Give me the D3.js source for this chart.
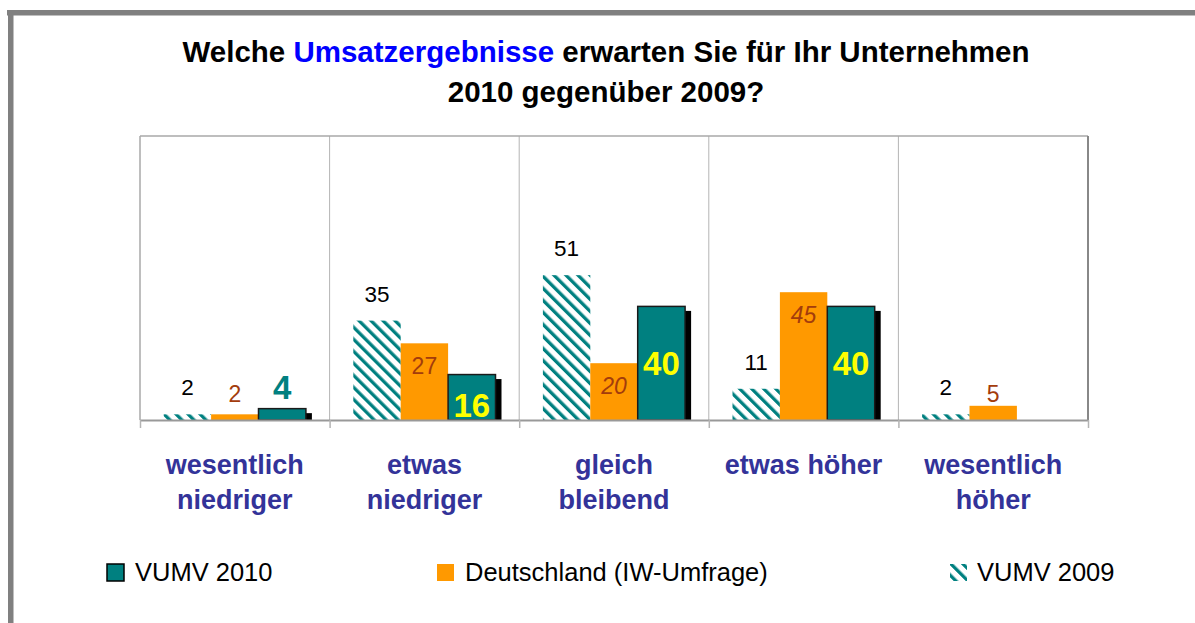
<!DOCTYPE html>
<html>
<head>
<meta charset="utf-8">
<script src="https://cdn.jsdelivr.net/npm/d3@7"></script>
<style>
  body { margin: 0; background: #fff; }
  svg { display: block; font-family: "Liberation Sans", Arial, sans-serif; }
</style>
</head>
<body>
<svg id="chart"></svg>
<script>
var width = 1195,
    height = 623,
    plot = {left: 140, top: 136, right: 1088, bottom: 420};

// data
var categories = ['wesentlich niedriger', 'etwas niedriger', 'gleich bleibend', 'etwas höher', 'wesentlich höher'];
var categoryLines = [['wesentlich', 'niedriger'], ['etwas', 'niedriger'], ['gleich', 'bleibend'], ['etwas höher'], ['wesentlich', 'höher']];
var series = ['VUMV 2009', 'Deutschland (IW-Umfrage)', 'VUMV 2010'];
var vumv2009 = [2, 35, 51, 11, 2];
var deutschland = [2, 27, 20, 45, 5];
var vumv2010 = [4, 16, 40, 40, null];
var legendOrder = ['VUMV 2010', 'Deutschland (IW-Umfrage)', 'VUMV 2009'];

var teal = '#008080', orange = '#ff9900', brown = '#a33c0c', catColor = '#333399';
var italicDE = [false, false, true, true, false];

var svg = d3.select('#chart').attr('width', width).attr('height', height);

// hatch pattern
var defs = svg.append('defs');
defs.append('pattern')
    .attr('id', 'hatch')
    .attr('patternUnits', 'userSpaceOnUse')
    .attr('width', 8.5).attr('height', 8.5)
    .attr('patternTransform', 'rotate(-45)')
    .call(function(p) {
      p.append('rect').attr('width', 8.5).attr('height', 8.5).attr('fill', '#fff');
      p.append('rect').attr('x', 0).attr('width', 3.3).attr('height', 8.5).attr('fill', teal);
    });

// outer frame
svg.append('rect').attr('x', 7).attr('y', 10).attr('width', width - 7).attr('height', 5.5).attr('fill', '#808080');
svg.append('rect').attr('x', 8).attr('y', 10).attr('width', 5.5).attr('height', height - 10).attr('fill', '#808080');

// title
var title = svg.append('text')
    .attr('text-anchor', 'middle')
    .attr('font-weight', 'bold')
    .attr('font-size', 29.5);
var t1 = title.append('tspan').attr('x', 606).attr('y', 62);
t1.append('tspan').text('Welche ');
t1.append('tspan').attr('fill', '#0000ff').text('Umsatzergebnisse');
t1.append('tspan').text(' erwarten Sie für Ihr Unternehmen');
title.append('tspan').attr('x', 606).attr('y', 102).text('2010 gegenüber 2009?');

// scales
var x0 = d3.scaleBand().domain(categories).range([plot.left, plot.right]).padding(0);
var x1 = d3.scaleBand().domain(series).range([0, x0.bandwidth()]).paddingInner(0).paddingOuter(0.5);
var y = d3.scaleLinear().domain([0, 100]).range([plot.bottom, plot.top]);
var xb = d3.scaleLinear().domain([0, categories.length]).range([plot.left, plot.right]);

// plot area
svg.append('g')
    .selectAll('line')
    .data(d3.range(1, categories.length))
    .join('line')
    .attr('x1', function(d) { return xb(d); }).attr('x2', function(d) { return xb(d); })
    .attr('y1', plot.top).attr('y2', plot.bottom)
    .attr('stroke', '#b4b4b4').attr('stroke-width', 1);

svg.append('line').attr('x1', plot.left).attr('x2', plot.right).attr('y1', plot.top).attr('y2', plot.top)
    .attr('stroke', '#a8a8a8').attr('stroke-width', 1.5);
svg.append('line').attr('x1', plot.left).attr('x2', plot.left).attr('y1', plot.top).attr('y2', plot.bottom)
    .attr('stroke', '#a8a8a8').attr('stroke-width', 1.5);
svg.append('line').attr('x1', plot.right).attr('x2', plot.right).attr('y1', plot.top).attr('y2', plot.bottom)
    .attr('stroke', '#888').attr('stroke-width', 2);

var rows = categories.map(function(c, i) {
  return {cat: c, i: i, v09: vumv2009[i], de: deutschland[i], v10: vumv2010[i]};
});

var g = svg.append('g');

// VUMV 2009 (hatched)
g.selectAll('.b09').data(rows).join('rect')
    .attr('x', function(d) { return x0(d.cat) + x1(series[0]); })
    .attr('y', function(d) { return y(d.v09); })
    .attr('width', x1.bandwidth())
    .attr('height', function(d) { return y(0) - y(d.v09); })
    .attr('fill', 'url(#hatch)');

// Deutschland
g.selectAll('.bde').data(rows).join('rect')
    .attr('x', function(d) { return x0(d.cat) + x1(series[1]); })
    .attr('y', function(d) { return y(d.de); })
    .attr('width', x1.bandwidth())
    .attr('height', function(d) { return y(0) - y(d.de); })
    .attr('fill', orange);

// VUMV 2010 with shadow
var rows10 = rows.filter(function(d) { return d.v10 != null; });
g.selectAll('.sh').data(rows10).join('rect')
    .attr('x', function(d) { return x0(d.cat) + x1(series[2]) + 6; })
    .attr('y', function(d) { return y(d.v10) + 4.5; })
    .attr('width', x1.bandwidth())
    .attr('height', function(d) { return y(0) - y(d.v10) - 4.5; })
    .attr('fill', '#000');
g.selectAll('.b10').data(rows10).join('rect')
    .attr('x', function(d) { return x0(d.cat) + x1(series[2]); })
    .attr('y', function(d) { return y(d.v10); })
    .attr('width', x1.bandwidth())
    .attr('height', function(d) { return y(0) - y(d.v10); })
    .attr('fill', teal)
    .attr('stroke', '#1a1a1a').attr('stroke-width', 1.5);

// axis with boundary ticks
svg.append('g')
    .attr('transform', 'translate(0,' + plot.bottom + ')')
    .call(d3.axisBottom(xb).ticks(categories.length).tickSizeInner(8).tickSizeOuter(0).tickFormat(''))
    .call(function(a) {
      a.select('.domain').attr('stroke', '#999').attr('stroke-width', 2);
      a.selectAll('.tick line').attr('stroke', '#b4b4b4').attr('stroke-width', 1.5);
    });

// value labels
var labels = svg.append('g').attr('text-anchor', 'middle');
labels.selectAll('.l09').data(rows).join('text')
    .attr('x', function(d) { return x0(d.cat) + x1(series[0]) + x1.bandwidth() / 2; })
    .attr('y', function(d) { return y(d.v09) - 19; })
    .attr('font-size', 22.5).attr('fill', '#000')
    .text(function(d) { return d.v09; });

labels.selectAll('.lde').data(rows).join('text')
    .attr('x', function(d) { return x0(d.cat) + x1(series[1]) + x1.bandwidth() / 2; })
    .attr('y', function(d) { return Math.min(y(d.de) + 31, y(0) - 18); })
    .attr('font-size', 23).attr('fill', brown)
    .attr('font-style', function(d) { return italicDE[d.i] ? 'italic' : 'normal'; })
    .text(function(d) { return d.de; });

labels.selectAll('.l10').data(rows10).join('text')
    .attr('x', function(d) { return x0(d.cat) + x1(series[2]) + x1.bandwidth() / 2; })
    .attr('y', function(d) {
      var h = y(0) - y(d.v10);
      if (h < 20) return y(d.v10) - 10;
      if (h < 60) return y(0) - 3;
      return (y(0) + y(d.v10)) / 2 + 11.5;
    })
    .attr('font-size', 33).attr('font-weight', 'bold')
    .attr('fill', function(d) { return (y(0) - y(d.v10)) < 20 ? teal : '#ffff00'; })
    .text(function(d) { return d.v10; });

// category labels
var cl = svg.append('g').attr('text-anchor', 'middle')
    .attr('font-size', 27).attr('font-weight', 'bold').attr('fill', catColor);
cl.selectAll('text').data(rows).join('text')
    .attr('transform', function(d) { return 'translate(' + (x0(d.cat) + x0.bandwidth() / 2) + ',0)'; })
    .each(function(d) {
      d3.select(this).selectAll('tspan').data(categoryLines[d.i]).join('tspan')
          .attr('x', 0)
          .attr('y', function(t, k) { return 474 + k * 35; })
          .text(function(t) { return t; });
    });

// legend
var legendX = [107, 437, 950],
    legendTextX = [135, 465, 977],
    legendFill = [teal, orange, 'url(#hatch)'];
var lg = svg.append('g').selectAll('g').data(legendOrder).join('g');
lg.append('rect')
    .attr('x', function(d, i) { return legendX[i]; })
    .attr('y', 564)
    .attr('width', 17).attr('height', 17)
    .attr('fill', function(d, i) { return legendFill[i]; })
    .attr('stroke', function(d, i) { return i === 0 ? '#000' : 'none'; })
    .attr('stroke-width', 1.5);
lg.append('text')
    .attr('x', function(d, i) { return legendTextX[i]; })
    .attr('y', 581)
    .attr('font-size', 25.5).attr('fill', '#000')
    .text(function(d) { return d; });
</script>
</body>
</html>
